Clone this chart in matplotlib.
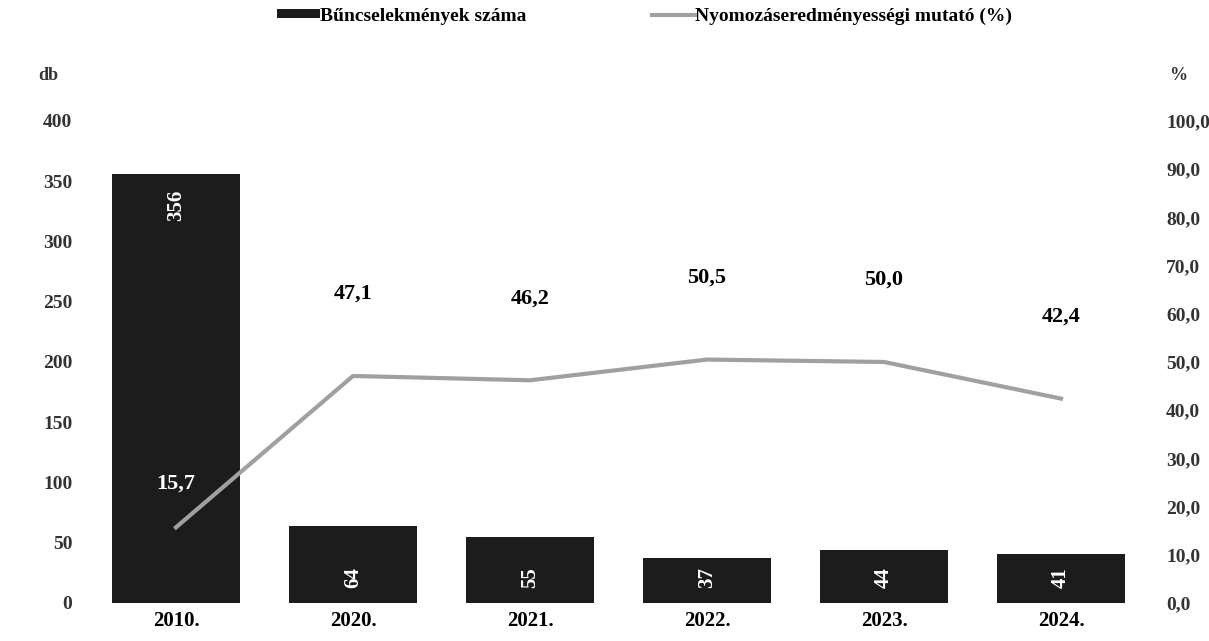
import matplotlib
matplotlib.use('Agg')
import matplotlib.pyplot as plt
from matplotlib.ticker import FuncFormatter

years = ['2010.', '2020.', '2021.', '2022.', '2023.', '2024.']
crimes = [356, 64, 55, 37, 44, 41]
rate = [15.7, 47.1, 46.2, 50.5, 50.0, 42.4]
left_ticks = [0, 50, 100, 150, 200, 250, 300, 350, 400]
right_ticks = [0, 10, 20, 30, 40, 50, 60, 70, 80, 90, 100]

plt.rcParams['font.family'] = ['Liberation Serif', 'DejaVu Serif']
plt.rcParams['font.weight'] = 'bold'

fig = plt.figure(figsize=(12.09, 6.41), dpi=100)
ax = fig.add_axes([0.0724, 0.0593, 0.8784, 0.752])
ax2 = ax.twinx()

x = list(range(len(years)))
bars = ax.bar(x, crimes, width=0.72, color='#1c1c1c',
              label='Bűncselekmények száma', zorder=2)
line, = ax2.plot(x, rate, color='#a0a0a0', lw=3,
                 label='Nyomozáseredményességi mutató (%)', zorder=3)

ax.set_xlim(-0.5, len(years) - 0.5)
ax.set_ylim(0, 400)
ax2.set_ylim(0, 100)
ax.set_yticks(left_ticks)
ax2.set_yticks(right_ticks)
ax2.yaxis.set_major_formatter(
    FuncFormatter(lambda v, p: f'{v:.1f}'.replace('.', ',')))
ax.set_xticks(x)
ax.set_xticklabels(years)

for a in (ax, ax2):
    for s in a.spines.values():
        s.set_visible(False)
    a.tick_params(length=0, labelsize=14, colors='#333333')
ax.tick_params(axis='y', pad=11)
ax.tick_params(axis='x', pad=6, labelsize=15, colors='black')
ax2.tick_params(axis='y', pad=12)

# bar labels, rotated, inside bars
for xi, v in zip(x, crimes):
    ypos = v - 26 if v > 100 else 21
    ax.text(xi, ypos, str(v), rotation=90, ha='center', va='center',
            color='white', fontsize=15, fontweight='bold', zorder=4)

# line labels
for xi, v in zip(x, rate):
    txt = f'{v:.1f}'.replace('.', ',')
    if xi == 0:
        ax2.text(xi, v + 9, txt, ha='center', va='center', color='white',
                 fontsize=16, fontweight='bold', zorder=5)
    else:
        ax2.text(xi, v + 17, txt, ha='center', va='center', color='black',
                 fontsize=16, fontweight='bold', zorder=5)

fig.text(0.032, 0.875, 'db', fontsize=13, fontweight='bold', color='#333333')
fig.text(0.967, 0.875, '%', fontsize=13, fontweight='bold', color='#333333')

fig.legend([bars, line],
           ['Bűncselekmények száma', 'Nyomozáseredményességi mutató (%)'],
           loc='center', bbox_to_anchor=(0.533, 0.975), ncol=2,
           frameon=False, handlelength=2.2, handleheight=0.35,
           handletextpad=0.0, columnspacing=6.5,
           prop={'size': 14, 'weight': 'bold'})

plt.savefig('out.png', dpi=100)
plt.close(fig)
